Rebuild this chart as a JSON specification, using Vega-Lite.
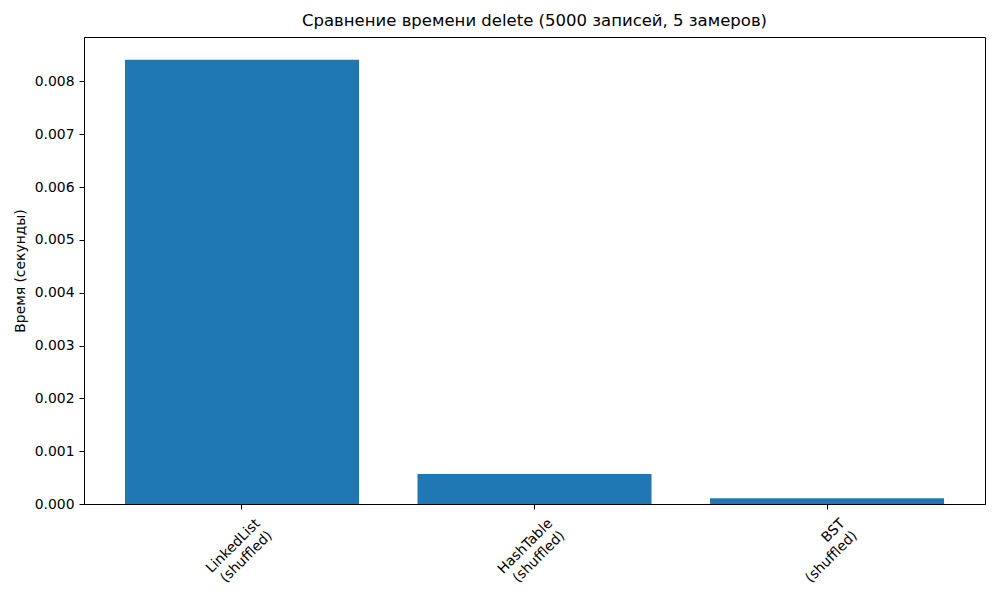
{
  "$schema": "https://vega.github.io/schema/vega-lite/v6.json",
  "width": 901,
  "height": 467,
  "autosize": "none",
  "padding": {"left": 84, "top": 37, "right": 15, "bottom": 96},
  "background": "white",
  "title": {
    "text": "Сравнение времени delete (5000 записей, 5 замеров)",
    "font": "DejaVu Sans",
    "fontSize": 16.5,
    "fontWeight": "normal",
    "color": "black",
    "offset": 8
  },
  "data": {
    "values": [
      {"structure": "LinkedList\n(shuffled)", "time": 0.00841},
      {"structure": "HashTable\n(shuffled)", "time": 0.00057},
      {"structure": "BST\n(shuffled)", "time": 0.000108}
    ]
  },
  "mark": {"type": "bar", "color": "#1f77b4"},
  "encoding": {
    "x": {
      "field": "structure",
      "type": "nominal",
      "sort": null,
      "title": null,
      "scale": {"paddingInner": 0.2, "paddingOuter": 0.14},
      "axis": {
        "labelAngle": -45,
        "labelAlign": "right",
        "labelBaseline": "top",
        "labelOffset": 11,
        "labelPadding": 7,
        "labelExpr": "split(datum.label, '\\n')",
        "labelLineHeight": 17
      }
    },
    "y": {
      "field": "time",
      "type": "quantitative",
      "title": "Время (секунды)",
      "scale": {"domain": [0, 0.00884], "nice": false, "zero": true},
      "axis": {
        "values": [0, 0.001, 0.002, 0.003, 0.004, 0.005, 0.006, 0.007, 0.008],
        "format": ".3f",
        "titlePadding": 7
      }
    }
  },
  "config": {
    "font": "DejaVu Sans",
    "view": {"stroke": "black", "strokeWidth": 1},
    "axis": {
      "grid": false,
      "domainColor": "black",
      "tickColor": "black",
      "tickSize": 5,
      "labelColor": "black",
      "labelFont": "DejaVu Sans",
      "labelFontSize": 13.9,
      "labelPadding": 5,
      "titleFont": "DejaVu Sans",
      "titleFontSize": 13.9,
      "titleFontWeight": "normal",
      "titleColor": "black"
    }
  }
}
